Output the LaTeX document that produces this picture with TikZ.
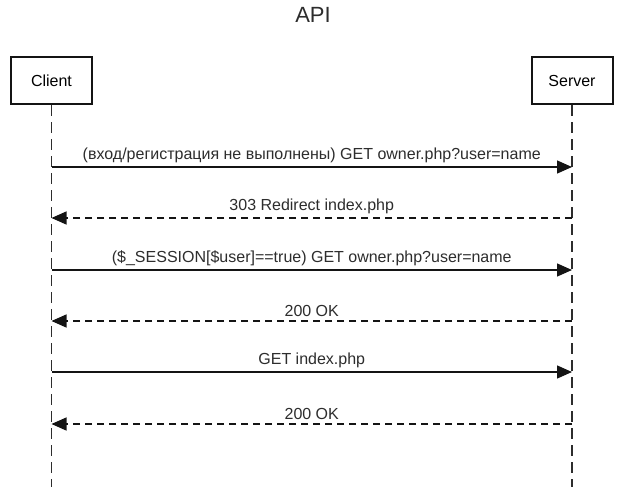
\documentclass[tikz,border=0pt]{standalone}
\usepackage{fontspec}
\setmainfont{Liberation Sans}
\usetikzlibrary{arrows.meta}
\definecolor{coal}{RGB}{20, 20, 20}
\definecolor{graphite}{RGB}{45, 45, 45}
\tikzset{
  actor/.style={draw=coal, line width=2pt, fill=white, minimum width=81pt, minimum height=47pt, inner sep=0pt, font=\fontsize{16}{19}\selectfont},
  lifeline/.style={draw=graphite, line width=1.5pt, dash pattern=on 11pt off 6pt},
  call/.style={draw=coal, line width=1.3pt, -{Triangle[length=15pt, width=13pt]}},
  reply/.style={call, dash pattern=on 7pt off 5pt},
  msglabel/.style={above=3pt, inner sep=1pt, text=graphite, font=\fontsize{16}{19}\selectfont}
}
\begin{document}
\begin{tikzpicture}[x=1pt, y=-1pt]
\useasboundingbox (0,0) rectangle (623,487);
\fill[white] (0,0) rectangle (623,487);
\node[font=\fontsize{22}{26}\selectfont, text=graphite] (title)  at (313.0, 15.0) {API};
\node[actor]                                            (client) at ( 51.5, 80.5) {Client};
\node[actor]                                            (server) at (572.0, 80.5) {Server};
\coordinate (clientend) at ( 51.5,487.0);
\coordinate (serverend) at (572.0,487.0);
\draw[lifeline] (client.south) -- (clientend);
\draw[lifeline] (server.south) -- (serverend);
\coordinate (c1) at ( 51.5,167.0); \coordinate (s1) at (572.0,167.0);
\coordinate (c2) at ( 51.5,218.0); \coordinate (s2) at (572.0,218.0);
\coordinate (c3) at ( 51.5,270.0); \coordinate (s3) at (572.0,270.0);
\coordinate (c4) at ( 51.5,321.0); \coordinate (s4) at (572.0,321.0);
\coordinate (c5) at ( 51.5,372.0); \coordinate (s5) at (572.0,372.0);
\coordinate (c6) at ( 51.5,424.0); \coordinate (s6) at (572.0,424.0);
\draw[call]  (c1) -- node[msglabel] {(вход/регистрация не выполнены) GET owner.php?user=name} (s1);
\draw[reply] (s2) -- node[msglabel] {303 Redirect index.php}                                  (c2);
\draw[call]  (c3) -- node[msglabel] {(\$\_SESSION[\$user]==true) GET owner.php?user=name}     (s3);
\draw[reply] (s4) -- node[msglabel] {200 OK}                                                  (c4);
\draw[call]  (c5) -- node[msglabel] {GET index.php}                                           (s5);
\draw[reply] (s6) -- node[msglabel] {200 OK}                                                  (c6);
\end{tikzpicture}
\end{document}
